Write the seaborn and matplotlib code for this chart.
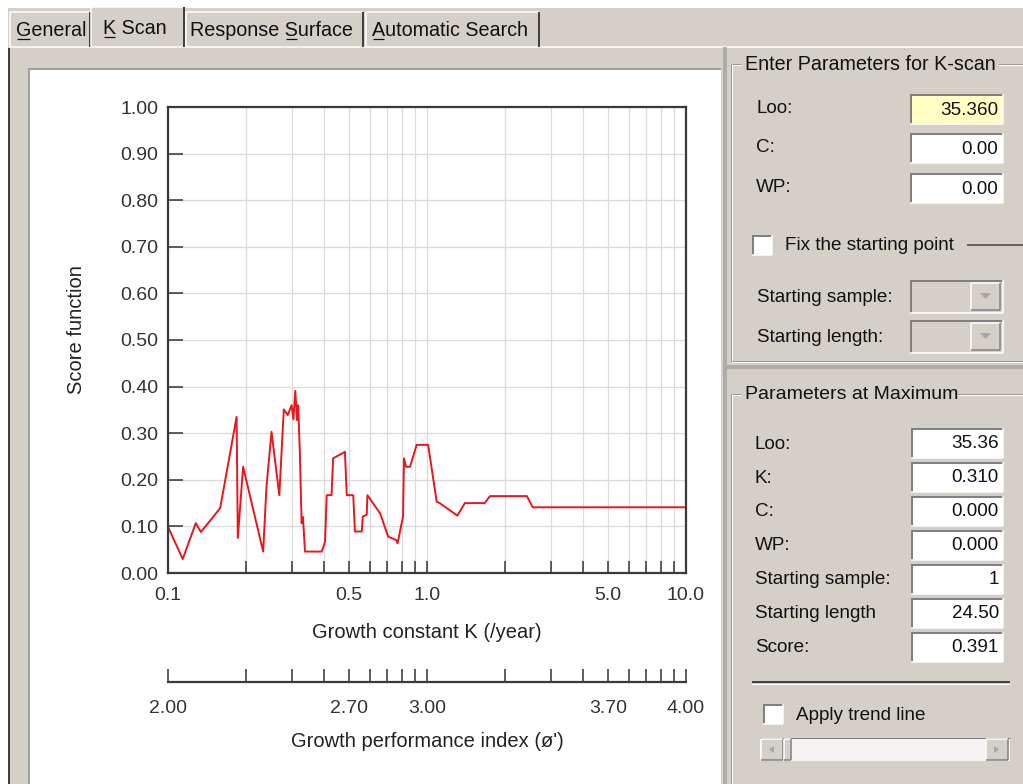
import numpy as np
import seaborn as sns
import matplotlib.pyplot as plt
from matplotlib.patches import Rectangle, Polygon
from matplotlib.ticker import NullLocator

# K-scan: score function against growth constant K
k_values = [0.100, 0.114, 0.128, 0.134, 0.159, 0.184, 0.186, 0.195, 0.233, 0.240,
            0.251, 0.269, 0.280, 0.290, 0.300, 0.305, 0.310, 0.315, 0.318, 0.323,
            0.328, 0.332, 0.338, 0.392, 0.404, 0.410, 0.428, 0.434, 0.482, 0.490,
            0.519, 0.527, 0.560, 0.565, 0.585, 0.589, 0.659, 0.708, 0.759, 0.770,
            0.808, 0.815, 0.830, 0.860, 0.912, 1.01, 1.09, 1.12, 1.31, 1.40,
            1.67, 1.75, 2.43, 2.56, 10.0]
score_values = [0.099, 0.030, 0.107, 0.088, 0.139, 0.335, 0.075, 0.228, 0.046, 0.185,
                0.303, 0.167, 0.351, 0.339, 0.360, 0.330, 0.391, 0.328, 0.360, 0.257,
                0.107, 0.120, 0.046, 0.046, 0.067, 0.167, 0.167, 0.246, 0.260, 0.167,
                0.167, 0.089, 0.089, 0.121, 0.125, 0.167, 0.128, 0.078, 0.071, 0.064,
                0.121, 0.246, 0.228, 0.228, 0.275, 0.275, 0.153, 0.150, 0.123, 0.150,
                0.150, 0.165, 0.165, 0.141, 0.141]

k_ticks = [0.1, 0.2, 0.3, 0.4, 0.5, 0.6, 0.7, 0.8, 0.9, 1.0,
           2.0, 3.0, 4.0, 5.0, 6.0, 7.0, 8.0, 9.0, 10.0]
k_tick_labels = ['0.1', '', '', '', '0.5', '', '', '', '', '1.0',
                 '', '', '', '5.0', '', '', '', '', '10.0']
phi_tick_labels = ['2.00', '', '', '', '2.70', '', '', '', '', '3.00',
                   '', '', '', '3.70', '', '', '', '', '4.00']
score_ticks = [0.0, 0.1, 0.2, 0.3, 0.4, 0.5, 0.6, 0.7, 0.8, 0.9, 1.0]
score_tick_labels = ['0.00', '0.10', '0.20', '0.30', '0.40', '0.50',
                     '0.60', '0.70', '0.80', '0.90', '1.00']

tab_names = ['General', 'K Scan', 'Response Surface', 'Automatic Search']
tab_hotkeys = [0, 0, 9, 0]
scan_labels = ['Loo:', 'C:', 'WP:']
scan_values = ['35.360', '0.00', '0.00']
max_labels = ['Loo:', 'K:', 'C:', 'WP:', 'Starting sample:', 'Starting length', 'Score:']
max_values = ['35.36', '0.310', '0.000', '0.000', '1', '24.50', '0.391']

sns.set_theme(style='white')
plt.rcParams['font.family'] = ['Liberation Sans', 'DejaVu Sans']

W, H = 1023, 784
GRAY = '#d4d0c8'
SHADOW = '#808080'
DARK = '#404040'
TXT = '#111111'
PX = 0.72  # one pixel in points at dpi 100

fig = plt.figure(figsize=(W / 100, H / 100), dpi=100, facecolor=GRAY)

# dialog chrome drawn in pixel coordinates
ui = fig.add_axes([0, 0, 1, 1], zorder=0)
ui.set_xlim(0, W)
ui.set_ylim(H, 0)
ui.axis('off')


def hline(x0, x1, y, c, w=1):
    ui.plot([x0, x1], [y, y], color=c, lw=w * PX, solid_capstyle='butt')


def vline(x, y0, y1, c, w=1):
    ui.plot([x, x], [y0, y1], color=c, lw=w * PX, solid_capstyle='butt')


def rect(x0, y0, x1, y1, fc):
    ui.add_patch(Rectangle((x0, y0), x1 - x0, y1 - y0, fc=fc, ec='none'))


def sunken(x0, y0, x1, y1, fc='white'):
    rect(x0, y0, x1, y1, fc)
    hline(x0, x1, y0 + 1, SHADOW, 2)
    vline(x0 + 1, y0, y1, SHADOW, 2)
    hline(x0, x1, y1, 'white', 1.5)
    vline(x1, y0, y1, 'white', 1.5)


def raised(x0, y0, x1, y1, fc=GRAY):
    rect(x0, y0, x1, y1, fc)
    hline(x0, x1, y0, 'white', 1.5)
    vline(x0, y0, y1, 'white', 1.5)
    hline(x0, x1, y1, SHADOW, 1.5)
    vline(x1, y0, y1, SHADOW, 1.5)


def label(x, y, s, ha='left', size=13.6):
    return ui.text(x, y, s, ha=ha, va='center', fontsize=size, color=TXT)


def etched_h(x0, x1, y):
    hline(x0, x1, y, '#9a9893', 1)
    hline(x0, x1, y + 1.2, 'white', 1)


def etched_v(x, y0, y1):
    vline(x, y0, y1, '#9a9893', 1)
    vline(x + 1.2, y0, y1, 'white', 1)


# white margins of the screenshot
rect(0, 0, W, 8, 'white')
rect(0, 0, 8, H, 'white')
vline(8.5, 46, H, DARK, 2)
hline(8, W, 47, 'white', 1.5)

# tabs
TAB_SIZE = 14.2
renderer = fig.canvas.get_renderer()
tab_edges = [(10, 90), (91, 184), (186, 363), (366, 539)]
tab_text_x = [16, 103, 190, 372]
for i, (name, (x0, x1)) in enumerate(zip(tab_names, tab_edges)):
    active = name == 'K Scan'
    top = 7 if active else 12
    rect(x0, top, x1, 49 if active else 47, GRAY)
    hline(x0, x1, top, 'white', 1.5)
    vline(x0, top, 47, 'white', 1.5)
    vline(x1, top, 47, DARK, 2)
    ty = 28 if active else 30
    label(tab_text_x[i], ty, name, size=TAB_SIZE)
    k = tab_hotkeys[i]
    pre = ui.text(tab_text_x[i], ty, name[:k], fontsize=TAB_SIZE) if k else None
    ch = ui.text(tab_text_x[i], ty, name[:k + 1], fontsize=TAB_SIZE)
    x_a = pre.get_window_extent(renderer).x1 if pre else tab_text_x[i]
    x_b = ch.get_window_extent(renderer).x1
    if pre:
        pre.remove()
    ch.remove()
    hline(x_a + 1, x_b - 1, ty + 9, TXT, 1.2)

# white chart panel
rect(29, 69, 721, H, 'white')
hline(28, 721, 68.5, '#a0a0a0', 2)
vline(28.5, 68, H, '#a0a0a0', 2)
vline(725, 47, H, '#aeaca7', 4)
hline(727, W, 367, '#aeaca7', 4)

# group box: Enter Parameters for K-scan
etched_h(731, 741, 64)
etched_h(998, W, 64)
etched_v(731, 64, 362)
etched_h(731, W, 361)
label(745, 64, 'Enter Parameters for K-scan', size=14.2)
scan_y = [94, 133, 173]
for lab, val, y in zip(scan_labels, scan_values, scan_y):
    label(756, y + 14, lab)
    sunken(910, y, 1003, y + 30, '#ffffc4' if lab == 'Loo:' else 'white')
    label(998, y + 16, val, ha='right')

sunken(752, 235, 772, 255)
label(785, 245, 'Fix the starting point')
hline(967, W, 245, DARK, 1.5)

for lab, y in zip(['Starting sample:', 'Starting length:'], [280, 320]):
    label(757, y + 17, lab)
    sunken(910, y, 1003, y + 33, GRAY)
    raised(971, y + 3, 1000, y + 30)
    ui.add_patch(Polygon([[980, y + 13], [991, y + 13], [985.5, y + 19]],
                         fc='#a8a6a2', ec='none'))

# group box: Parameters at Maximum
etched_h(731, 741, 394)
etched_h(957, W, 394)
etched_v(731, 394, H)
label(745, 394, 'Parameters at Maximum', size=14.0)
for i, (lab, val) in enumerate(zip(max_labels, max_values)):
    y = 428 + 34 * i
    label(755, y + 16, lab)
    sunken(911, y, 1003, y + 30)
    label(999, y + 15, val, ha='right')

hline(752, 1010, 682, DARK, 2)
hline(752, 1010, 684, 'white', 1)
sunken(763, 704, 783, 724)
label(796, 716, 'Apply trend line')
rect(760, 738, 1010, 761, '#f4f3f1')
hline(760, 1010, 738, SHADOW, 1)
raised(761, 739, 783, 760)
raised(986, 739, 1008, 760)
raised(784, 739, 791, 760)
ui.add_patch(Polygon([[769, 749.5], [774, 746], [774, 753]], fc='#a8a6a2', ec='none'))
ui.add_patch(Polygon([[999, 749.5], [994, 746], [994, 753]], fc='#a8a6a2', ec='none'))

# the score function chart
ax = fig.add_axes([168 / W, 1 - 573 / H, 518 / W, 466 / H], zorder=2)
ax.set_facecolor('white')
sns.lineplot(x=k_values, y=score_values, ax=ax, color='#e8161e', lw=1.4,
             sort=False, estimator=None)
ax.set_xscale('log')
ax.set_xlim(0.1, 10)
ax.set_ylim(0, 1)
ax.set_xticks(k_ticks)
ax.set_xticklabels(k_tick_labels)
ax.xaxis.set_minor_locator(NullLocator())
ax.set_yticks(score_ticks)
ax.set_yticklabels(score_tick_labels)
ax.grid(True, color='#dadada', lw=0.9)
ax.tick_params(axis='x', bottom=True, direction='in', length=8.5, width=1.1,
               pad=10, labelsize=14, colors='#333333')
ax.tick_params(axis='y', left=True, direction='in', length=10.8, width=1.1,
               pad=7, labelsize=14, colors='#333333')
for s in ax.spines.values():
    s.set_color('#3a3a3a')
    s.set_linewidth(1.6)
ax.set_xlabel('Growth constant K (/year)', fontsize=14.5, color='#222222')
ax.xaxis.label.set_va('center')
ax.xaxis.set_label_coords(0.5, -(633 - 573) / 466)
ax.set_ylabel('Score function', fontsize=14.5, color='#222222')
ax.yaxis.label.set_va('center')
ax.yaxis.set_label_coords((77 - 168) / 518, (573 - 330) / 466)

# growth performance index axis, drawn under the K axis
phi_ax = fig.add_axes([168 / W, 1 - 682 / H, 518 / W, 1 / H], zorder=2)
phi_ax.set_facecolor('none')
phi_ax.set_xscale('log')
phi_ax.set_xlim(0.1, 10)
phi_ax.set_xticks(k_ticks)
phi_ax.set_xticklabels(phi_tick_labels)
phi_ax.xaxis.set_minor_locator(NullLocator())
phi_ax.set_yticks([])
for side in ['top', 'left', 'right']:
    phi_ax.spines[side].set_visible(False)
phi_ax.spines['bottom'].set_color('#3a3a3a')
phi_ax.spines['bottom'].set_linewidth(1.6)
phi_ax.tick_params(axis='x', bottom=True, direction='in', length=9.5, width=1.1,
                   pad=13, labelsize=14, colors='#333333')
phi_ax.set_xlabel("Growth performance index (\u00f8')", fontsize=14.5,
                  color='#222222', labelpad=11)

fig.savefig('out.png', dpi=100, facecolor=GRAY)
